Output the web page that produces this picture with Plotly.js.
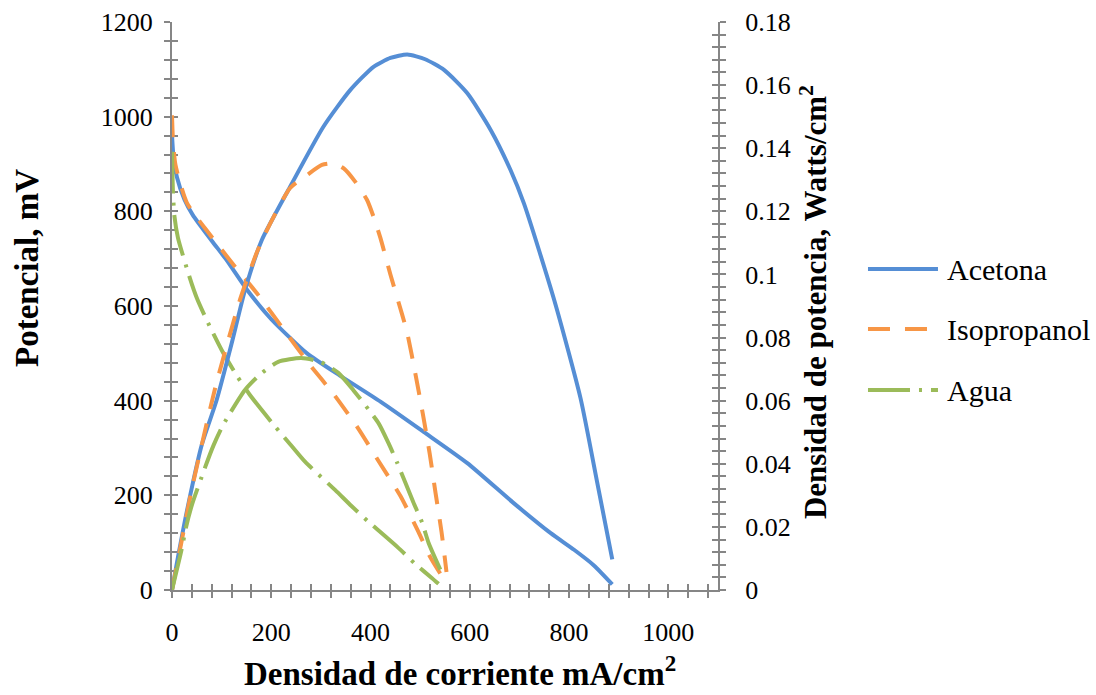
<!DOCTYPE html>
<html>
<head>
<meta charset="utf-8">
<script src="https://cdn.plot.ly/plotly-3.0.1.min.js"></script>
<style>
  html, body { margin: 0; padding: 0; background: #ffffff; }
  #chart { width: 1096px; height: 695px; }
</style>
</head>
<body>
<div id="chart"></div>
<script>
// Series names (legend)
const seriesNames = ['Acetona', 'Isopropanol', 'Agua'];

// Polarization curves: current density (mA/cm²) vs potential (mV)
const acetonaPolCurrent = [0, 3, 10, 25, 42, 80, 110, 150, 200, 272, 340, 420, 507, 595, 689, 763, 810, 850, 887];
const acetonaPotential  = [961, 915, 872, 825, 792, 738, 697, 636, 572, 500, 452, 398, 334, 268, 183, 120, 85, 52, 12];

const isoPolCurrent = [0, 2, 7, 30, 77, 127, 171, 228, 276, 327, 374, 417, 460, 496, 520, 545];
const isoPotential  = [1003, 950, 898, 818, 750, 683, 627, 546, 478, 412, 343, 271, 199, 124, 70, 27];

const aguaPolCurrent = [0, 2, 5, 12, 36, 50, 70, 100, 131, 157, 208, 238, 268, 329, 361, 396, 456, 490, 524, 537];
const aguaPotential  = [926, 839, 789, 744, 659, 617, 570, 507, 452, 412, 345, 308, 271, 211, 178, 144, 89, 55, 25, 13];

// Power density curves: current density (mA/cm²) vs power (W/cm²)
const acetonaPowCurrent = [0, 10, 30, 60, 90, 120, 147, 181, 238, 305, 359, 406, 440, 474, 510, 548, 595, 642, 682, 709, 770, 823, 857, 887];
const acetonaPower      = [0, 0.0087, 0.025, 0.046, 0.0602, 0.078, 0.095, 0.1109, 0.1278, 0.1468, 0.1584, 0.1658, 0.1686, 0.1697, 0.1682, 0.1648, 0.1574, 0.1458, 0.1331, 0.1225, 0.0919, 0.0608, 0.0338, 0.0097];

const isoPowCurrent = [0, 20, 40, 87, 137, 171, 198, 238, 272, 302, 325, 346, 369, 393, 406, 420, 440, 464, 474, 490, 505, 519, 531, 543, 553];
const isoPower      = [0, 0.016, 0.032, 0.064, 0.092, 0.107, 0.1162, 0.1274, 0.1315, 0.1347, 0.1352, 0.1336, 0.1294, 0.1236, 0.1183, 0.1115, 0.100, 0.0871, 0.0814, 0.0688, 0.0561, 0.0434, 0.0307, 0.0184, 0.0057];

const aguaPowCurrent = [0, 20, 28, 40, 67, 83, 103, 147, 178, 214, 260, 299, 335, 365, 416, 436, 454, 486, 504, 517, 541];
const aguaPower      = [0, 0.0133, 0.0197, 0.0269, 0.039, 0.0456, 0.0523, 0.0634, 0.0684, 0.0723, 0.0735, 0.0723, 0.0688, 0.0634, 0.0529, 0.0466, 0.0402, 0.0279, 0.0213, 0.0149, 0.0063];

// Axis tick values
const xTicks  = [0, 200, 400, 600, 800, 1000];
const yTicks  = [0, 200, 400, 600, 800, 1000, 1200];
const y2Ticks = [0, 0.02, 0.04, 0.06, 0.08, 0.1, 0.12, 0.14, 0.16, 0.18];

// Styles
const colors = ['#558ED5', '#F79646', '#9BBB59'];
const dashes = ['solid', '22px,15px', '42px,9px,3px,9px'];
const serif = 'Liberation Serif';
const axisGray = '#868686';

function curve(x, y, idx, yaxis) {
  return {
    x: x, y: y, yaxis: yaxis, type: 'scatter', mode: 'lines',
    name: seriesNames[idx], showlegend: false, hoverinfo: 'skip',
    line: { color: colors[idx], width: 4, dash: dashes[idx], shape: 'spline', smoothing: 0.6 }
  };
}

const traces = [
  curve(acetonaPolCurrent, acetonaPotential, 0, 'y'),
  curve(acetonaPowCurrent, acetonaPower, 0, 'y2'),
  curve(isoPolCurrent, isoPotential, 1, 'y'),
  curve(isoPowCurrent, isoPower, 1, 'y2'),
  curve(aguaPolCurrent, aguaPotential, 2, 'y'),
  curve(aguaPowCurrent, aguaPower, 2, 'y2'),
  // empty carriers for the inner tick halves
  { x: [], y: [], xaxis: 'x2', yaxis: 'y', showlegend: false, hoverinfo: 'skip' },
  { x: [], y: [], xaxis: 'x', yaxis: 'y3', showlegend: false, hoverinfo: 'skip' },
  { x: [], y: [], xaxis: 'x', yaxis: 'y4', showlegend: false, hoverinfo: 'skip' }
];

const tickFont = { family: serif, size: 26, color: '#000000' };
const xRange = [0, 1100], yRange = [0, 1200], y2Range = [0, 0.18];

const baseTick = { ticklen: 6, tickwidth: 2, tickcolor: axisGray };

const layout = {
  width: 1096, height: 695,
  margin: { l: 172, r: 378, t: 22, b: 105 },
  paper_bgcolor: '#ffffff', plot_bgcolor: '#ffffff',
  font: { family: serif, color: '#000000' },
  showlegend: false,
  xaxis: Object.assign({
    range: xRange, tickvals: xTicks, ticks: 'outside', showgrid: false, zeroline: false,
    showline: true, linecolor: axisGray, linewidth: 2, layer: 'below traces',
    tickfont: tickFont, ticklabelstandoff: 12,
    minor: { dtick: 40, tick0: 0, ticks: 'outside', ticklen: 6, tickwidth: 2, tickcolor: axisGray, showgrid: false }
  }, baseTick),
  xaxis2: Object.assign({
    range: xRange, overlaying: 'x', anchor: 'y', tickvals: xTicks, ticks: 'inside', showticklabels: false,
    showgrid: false, zeroline: false, showline: false, layer: 'below traces',
    minor: { dtick: 40, tick0: 0, ticks: 'inside', ticklen: 6, tickwidth: 2, tickcolor: axisGray, showgrid: false }
  }, baseTick),
  yaxis: Object.assign({
    range: yRange, tickvals: yTicks, ticks: 'outside', showgrid: false, zeroline: false,
    showline: true, linecolor: axisGray, linewidth: 2, layer: 'below traces',
    tickfont: tickFont, ticklabelstandoff: 6,
    minor: { dtick: 40, tick0: 0, ticks: 'outside', ticklen: 6, tickwidth: 2, tickcolor: axisGray, showgrid: false }
  }, baseTick),
  yaxis2: Object.assign({
    range: y2Range, overlaying: 'y', side: 'right', anchor: 'x', tickvals: y2Ticks,
    ticktext: y2Ticks.map(v => String(v)), ticks: 'outside', showgrid: false, zeroline: false,
    showline: true, linecolor: axisGray, linewidth: 2, layer: 'below traces',
    tickfont: tickFont, ticklabelstandoff: 14,
    minor: { dtick: 0.004, tick0: 0, ticks: 'outside', ticklen: 6, tickwidth: 2, tickcolor: axisGray, showgrid: false }
  }, baseTick),
  yaxis3: Object.assign({
    range: yRange, overlaying: 'y', side: 'left', anchor: 'x', tickvals: yTicks, ticks: 'inside',
    showticklabels: false, showgrid: false, zeroline: false, showline: false, layer: 'below traces',
    minor: { dtick: 40, tick0: 0, ticks: 'inside', ticklen: 6, tickwidth: 2, tickcolor: axisGray, showgrid: false }
  }, baseTick),
  yaxis4: Object.assign({
    range: y2Range, overlaying: 'y', side: 'right', anchor: 'x', tickvals: y2Ticks, ticks: 'inside',
    showticklabels: false, showgrid: false, zeroline: false, showline: false, layer: 'below traces',
    minor: { dtick: 0.004, tick0: 0, ticks: 'inside', ticklen: 6, tickwidth: 2, tickcolor: axisGray, showgrid: false }
  }, baseTick),
  annotations: [],
  shapes: []
};

// Axis titles
layout.annotations.push(
  { xref: 'paper', yref: 'paper', x: 0.5266, y: -0.143, xanchor: 'center', yanchor: 'middle',
    text: '<b>Densidad de corriente mA/cm<sup>2</sup></b>', showarrow: false, borderpad: 0,
    font: { family: serif, size: 33, color: '#000000' } },
  { xref: 'paper', yref: 'paper', x: -0.2656, y: 0.567, xanchor: 'center', yanchor: 'middle', textangle: -90,
    text: '<b>Potencial, mV</b>', showarrow: false,
    font: { family: serif, size: 33, color: '#000000' } },
  { xref: 'paper', yref: 'paper', x: 1.174, y: 0.507, xanchor: 'center', yanchor: 'middle', textangle: -90,
    text: '<b>Densidad de potencia, Watts/cm<sup>2</sup></b>', showarrow: false,
    font: { family: serif, size: 31, color: '#000000' } }
);

// Legend: sample line + label per series
const legendRows = [0.5651, 0.4595, 0.3521];
seriesNames.forEach((name, i) => {
  layout.shapes.push({
    type: 'line', xref: 'paper', yref: 'paper',
    x0: 1.2747, x1: 1.4029, y0: legendRows[i], y1: legendRows[i],
    line: { color: colors[i], width: 4, dash: dashes[i] }
  });
  layout.annotations.push({
    xref: 'paper', yref: 'paper', x: 1.4158, y: legendRows[i], xanchor: 'left', yanchor: 'middle',
    text: name, showarrow: false, font: { family: serif, size: 30, color: '#000000' }
  });
});

Plotly.newPlot('chart', traces, layout, { displayModeBar: false, staticPlot: true });
</script>
</body>
</html>
